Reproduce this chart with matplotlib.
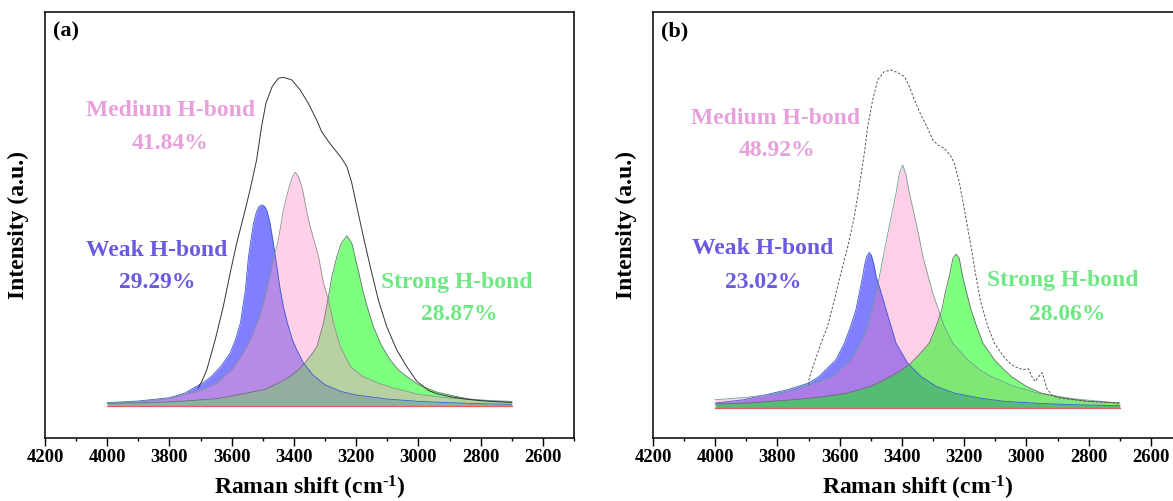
import matplotlib
matplotlib.use("Agg")
import matplotlib.pyplot as plt
from matplotlib.ticker import MultipleLocator

plt.rcParams['font.family'] = ['Liberation Serif', 'DejaVu Serif']
plt.rcParams['font.weight'] = 'bold'
plt.rcParams['mathtext.fontset'] = 'custom'
plt.rcParams['mathtext.rm'] = 'Liberation Serif:bold'
plt.rcParams['mathtext.it'] = 'Liberation Serif:bold'
plt.rcParams['mathtext.bf'] = 'Liberation Serif:bold'

# ---- panel (a) ----
a_weak_x = [4000, 3900, 3800, 3750, 3723, 3690, 3665, 3635, 3605, 3588, 3572, 3564, 3556,
            3546, 3538, 3530, 3520, 3512, 3503, 3494, 3486, 3477, 3468, 3460, 3452, 3444,
            3434, 3421, 3405, 3391, 3369, 3340, 3300, 3250, 3200, 3100, 3000, 2900, 2800, 2700]
a_weak_y = [1.1, 1.6, 2.6, 4, 5.5, 7.2, 9, 12, 16, 20, 25, 30, 35,
            45, 50, 55, 58.5, 60, 60.5, 60, 58.5, 55, 50, 45, 40, 35,
            30, 25, 20, 17, 13, 9.5, 6.5, 4.5, 3.4, 2.2, 1.5, 1.1, 0.8, 0.6]

a_med_x = [4000, 3900, 3800, 3755, 3700, 3648, 3600, 3570, 3540, 3510, 3487, 3464, 3450,
           3434, 3418, 3405, 3396, 3385, 3372, 3360, 3348, 3321, 3305, 3289, 3273, 3251,
           3219, 3180, 3130, 3080, 3000, 2900, 2800, 2700]
a_med_y = [1.0, 1.4, 2.3, 3.5, 4.8, 7, 11, 15, 20, 27, 35, 45, 50,
           59, 65, 69, 70.3, 69, 65, 59, 54, 45, 37, 32, 25, 18,
           12, 9, 7, 5.5, 3.6, 2.5, 1.9, 1.5]

a_str_x = [4000, 3862, 3750, 3650, 3595, 3540, 3490, 3450, 3412, 3385, 3365, 3340, 3326,
           3305, 3289, 3278, 3262, 3248, 3230, 3214, 3204, 3190, 3177, 3160, 3145, 3120,
           3091, 3065, 3038, 3000, 2941, 2880, 2834, 2770, 2700]
a_str_y = [0.9, 1.1, 1.6, 2.3, 3.2, 4.2, 5.2, 7, 9, 11, 13, 16, 18,
           25, 33, 39, 45, 49, 51.2, 49, 45, 39.5, 34, 28.5, 24, 18.5,
           14, 11, 9, 6.5, 4.3, 3, 2.2, 1.6, 1.2]

a_env_x = [3708, 3696, 3680, 3653, 3627, 3605, 3584, 3562, 3541, 3520, 3504, 3490, 3470,
           3450, 3434, 3407, 3380, 3354, 3327, 3311, 3289, 3268, 3247, 3230, 3214, 3198,
           3177, 3155, 3129, 3102, 3070, 3038, 3005, 2968, 2941, 2898, 2850, 2800, 2750, 2700]
a_env_y = [5.5, 7.5, 11, 20, 30, 40, 49, 57, 65, 74, 84, 91, 96,
           98.5, 98.8, 98, 95, 91, 86, 82.5, 79.5, 77, 74.5, 72, 67, 60,
           51, 42, 32, 24, 17, 12, 7.5, 4.8, 3.8, 2.9, 2.2, 1.7, 1.4, 1.2]

# ---- panel (b) ----
b_weak_x = [4000, 3907, 3767, 3700, 3666, 3612, 3585, 3565, 3548, 3536, 3526, 3520, 3512,
            3505, 3498, 3490, 3483, 3468, 3451, 3435, 3419, 3382, 3339, 3290, 3232, 3150,
            3071, 2960, 2856, 2700]
b_weak_y = [1.5, 2.5, 5.5, 7.5, 9.5, 14.5, 19.5, 24.5, 29.5, 35, 39.5, 43, 45.8,
            46.7, 45.8, 43, 39.5, 35, 29.5, 24.5, 19.5, 13.5, 9.5, 6.5, 4.5, 3,
            2, 1.4, 1, 0.7]

b_med_x = [4000, 3900, 3800, 3746, 3680, 3623, 3564, 3530, 3510, 3483, 3462, 3441, 3419,
           3408, 3398, 3388, 3376, 3352, 3330, 3301, 3264, 3237, 3189, 3150, 3114, 3040,
           2964, 2850, 2706]
b_med_y = [2.5, 3.2, 4.3, 5.5, 7.5, 9.5, 14.5, 20, 24.5, 34.5, 44.5, 54.5, 64.5,
           70.5, 73, 70.5, 64.5, 54.5, 44.5, 34.5, 24.5, 19.5, 14.5, 11.5, 9.5, 6.5,
           4.5, 2.8, 1.5]

b_str_x = [4000, 3896, 3750, 3650, 3575, 3500, 3435, 3400, 3371, 3340, 3312, 3290, 3272,
           3260, 3248, 3236, 3226, 3216, 3205, 3192, 3178, 3160, 3140, 3103, 3075, 3049,
           3000, 2953, 2880, 2803, 2700]
b_str_y = [1.2, 1.5, 2.5, 3.4, 4.5, 6.5, 9.5, 11.5, 13.5, 16.5, 19.5, 24.5, 29.5,
           35, 39.5, 45, 46.2, 45, 39.5, 34.5, 29.5, 24.5, 19.5, 14.5, 11.8, 9.5,
           6.5, 4.5, 3, 2, 1.5]

b_env_x = [3700, 3698, 3680, 3660, 3639, 3617, 3596, 3574, 3553, 3537, 3521, 3510, 3494,
           3478, 3457, 3435, 3414, 3392, 3376, 3360, 3339, 3317, 3301, 3285, 3264, 3242,
           3232, 3215, 3199, 3178, 3162, 3146, 3124, 3103, 3081, 3060, 3039, 3012, 2994,
           2983, 2972, 2960, 2949, 2935, 2920, 2901, 2850, 2800, 2700]
b_env_y = [7, 9, 14, 19.5, 24.5, 32.5, 40.5, 48.5, 57.5, 66.5, 76.5, 84.5, 92.5,
           98.5, 101, 101.5, 100.7, 99.5, 96.5, 92.5, 88, 84, 80.5, 79, 78, 75.5,
           73.5, 67.5, 59.5, 48.5, 39.5, 31.5, 24.5, 19.5, 16.5, 14, 12.5, 11.5, 11.8,
           9.5, 8, 9.5, 10.6, 6, 4, 3.1, 2.5, 2.0, 1.5]

labels = ['Weak H-bond', 'Medium H-bond', 'Strong H-bond']
a_pct = ['29.29%', '41.84%', '28.87%']
b_pct = ['23.02%', '48.92%', '28.06%']

c_weak_txt = '#6a5ae0'
c_med_txt = '#e8a0dc'
c_str_txt = '#6ee882'

fig = plt.figure(figsize=(11.73, 5.01), dpi=100)
ax1 = fig.add_axes([45/1173, 63/501, 529/1173, 426/501])
ax2 = fig.add_axes([653/1173, 63/501, 529/1173, 426/501])


def fill_peak(ax, x, y, color, alpha, edge):
    ax.fill_between(x, 0, y, color=color, alpha=alpha, lw=0)
    ax.plot(x, y, color=edge, lw=0.6)


# panel (a)
ax1.plot([4000, 2700], [0, 0], color='#e06060', lw=0.9)
fill_peak(ax1, a_weak_x, a_weak_y, '#0000ff', 0.5, '#3a5ad0')
fill_peak(ax1, a_str_x, a_str_y, '#00ff00', 0.5, '#607868')
fill_peak(ax1, a_med_x, a_med_y, '#ff99cc', 0.45, '#909090')
ax1.plot(a_env_x, a_env_y, color='#333333', lw=0.7)

# panel (b)
ax2.plot([4000, 2700], [0, 0], color='#e06060', lw=0.9)
fill_peak(ax2, b_weak_x, b_weak_y, '#0000ff', 0.5, '#3a5ad0')
fill_peak(ax2, b_med_x, b_med_y, '#ff78be', 0.35, '#70a090')
fill_peak(ax2, b_str_x, b_str_y, '#00ff00', 0.5, '#607060')
ax2.plot(b_env_x, b_env_y, color='#555555', lw=0.7, dashes=(2.5, 1.8))

txt = dict(ha='center', va='center', fontsize=17, fontweight='bold')
for ax, pct, pos in [
    (ax1, a_pct, [(0.212, 0.441, 0.212, 0.366), (0.238, 0.768, 0.236, 0.692), (0.779, 0.366, 0.783, 0.289)]),
    (ax2, b_pct, [(0.208, 0.444, 0.208, 0.366), (0.2325, 0.749, 0.234, 0.674), (0.775, 0.369, 0.783, 0.289)]),
]:
    for lab, p, (x1, y1, x2, y2), c in zip(labels, pct, pos, [c_weak_txt, c_med_txt, c_str_txt]):
        ax.text(x1, y1, lab, color=c, transform=ax.transAxes, **txt)
        ax.text(x2, y2, p, color=c, transform=ax.transAxes, **txt)

for ax, tag, ylim in [(ax1, '(a)', (-9.5, 118.4)), (ax2, '(b)', (-9.0, 118.9))]:
    ax.set_xlim(4200, 2500)
    ax.set_ylim(*ylim)
    ax.xaxis.set_major_locator(MultipleLocator(200))
    ax.xaxis.set_minor_locator(MultipleLocator(100))
    ax.set_yticks([])
    ax.tick_params(axis='x', which='major', direction='out', length=5.5, width=1.0,
                   labelsize=13.5, pad=2.5)
    ax.tick_params(axis='x', which='minor', direction='out', length=2.5, width=1.0)
    for lbl in ax.get_xticklabels():
        lbl.set_fontweight('bold')
    for s in ax.spines.values():
        s.set_linewidth(1.1)
    ax.set_xlabel(r'Raman shift (cm$^{\text{-}1}$)', fontsize=17, fontweight='bold')
    ax.xaxis.set_label_coords(0.5, -0.117)
    ax.xaxis.label.set_va('center')
    ax.set_ylabel('Intensity (a.u.)', fontsize=17, fontweight='bold')
    ax.yaxis.set_label_coords(-0.051, 0.5)
    ax.yaxis.label.set_va('center')
    ax.text(0.015, 0.955, tag, transform=ax.transAxes, ha='left', va='center',
            fontsize=16, fontweight='bold')

fig.savefig('out.png', dpi=100)
